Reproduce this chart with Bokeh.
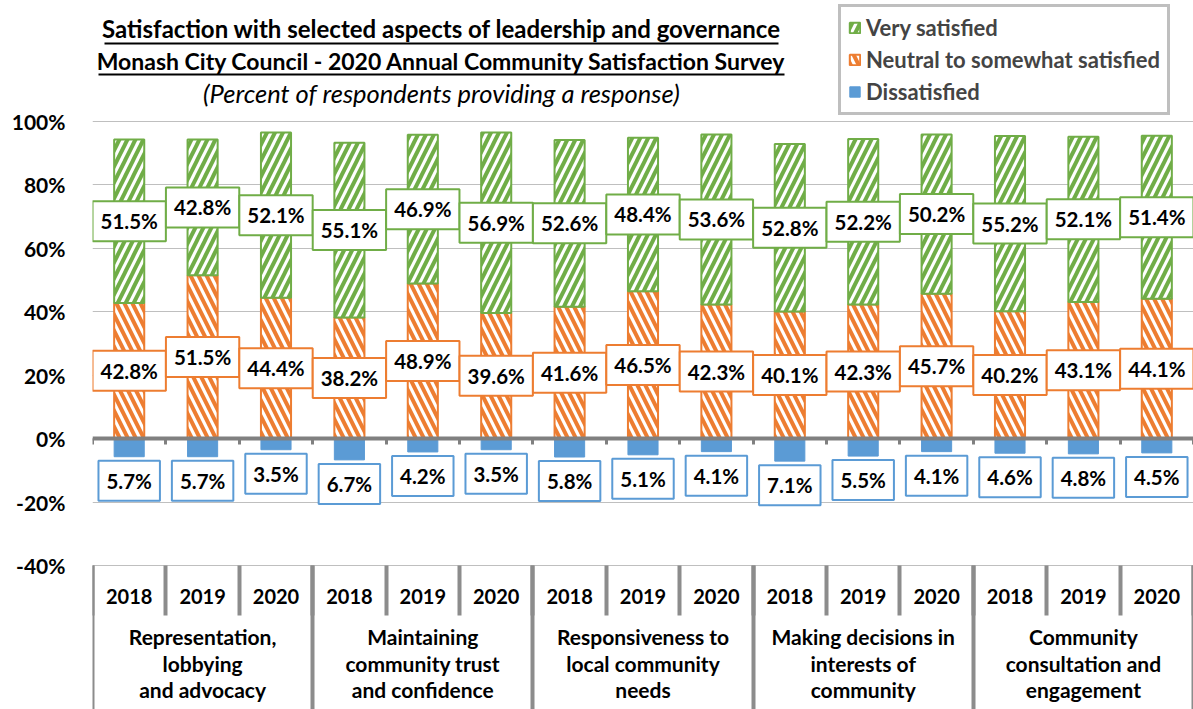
from bokeh.plotting import figure
from bokeh.models import (ColumnDataSource, Range1d, LinearAxis, FixedTicker,
                          PrintfTickFormatter, Legend, LegendItem, Label, BoxAnnotation,
                          CustomJSTickFormatter)
from bokeh.core.properties import value
from bokeh.embed import file_html
from bokeh.resources import INLINE

# ---------------- data ----------------
groups = [
    "Representation,\nlobbying\nand advocacy",
    "Maintaining\ncommunity trust\nand confidence",
    "Responsiveness to\nlocal community\nneeds",
    "Making decisions in\ninterests of\ncommunity",
    "Community\nconsultation and\nengagement",
]
years = ["2018", "2019", "2020"]
very_satisfied = [51.5, 42.8, 52.1, 55.1, 46.9, 56.9, 52.6, 48.4, 53.6, 52.8, 52.2, 50.2, 55.2, 52.1, 51.4]
neutral = [42.8, 51.5, 44.4, 38.2, 48.9, 39.6, 41.6, 46.5, 42.3, 40.1, 42.3, 45.7, 40.2, 43.1, 44.1]
dissatisfied = [5.7, 5.7, 3.5, 6.7, 4.2, 3.5, 5.8, 5.1, 4.1, 7.1, 5.5, 4.1, 4.6, 4.8, 4.5]
y_ticks = [-40, -20, 0, 20, 40, 60, 80, 100]
series_names = ["Very satisfied", "Neutral to somewhat satisfied", "Dissatisfied"]
title_lines = [
    "Satisfaction with selected aspects of leadership and governance",
    "Monash City Council - 2020 Annual Community Satisfaction Survey",
    "(Percent of respondents providing a response)",
]

# ---------------- style ----------------
GREEN = "#70ad47"
ORANGE = "#ed7d31"
BLUE = "#5b9bd5"
SEP = "#8c8c8c"
FONT = "Lato"

n_years = len(years)
slot_labels = [y for g in groups for y in years]
n_slots = len(slot_labels)
pos = [i + 0.5 for i in range(n_slots)]                      # slot centres
bounds = list(range(n_slots + 1))                           # slot boundaries
group_pos = [g * n_years + n_years / 2 for g in range(len(groups))]
group_bounds = list(range(0, n_slots + 1, n_years))
axis_floor = min(y_ticks)

src = ColumnDataSource(dict(
    x=pos,
    neutral=neutral,
    very=very_satisfied,
    dis_neg=[-d for d in dissatisfied],
    vs_mid=[n + v / 2 for n, v in zip(neutral, very_satisfied)],
    n_mid=[n / 2 for n in neutral],
    vs_lab=[f"{v:.1f}%" for v in very_satisfied],
    n_lab=[f"{v:.1f}%" for v in neutral],
    d_lab=[f"{v:.1f}%" for v in dissatisfied],
))

p = figure(width=1193, height=709, x_range=Range1d(0, n_slots), y_range=Range1d(-85.41, 138.15),
           output_backend="svg", toolbar_location=None, x_axis_location=None,
           min_border_left=92, min_border_right=0, min_border_top=0, min_border_bottom=0)
p.outline_line_color = None
p.background_fill_color = "white"
p.border_fill_color = "white"

# bars
rs = p.vbar_stack(["neutral", "very"], x="x", width=0.41, source=src,
                  fill_color="white", line_color=[ORANGE, GREEN], line_width=2,
                  hatch_pattern=["\\", "/"], hatch_color=[ORANGE, GREEN],
                  hatch_weight=4, hatch_scale=16)
rd = p.vbar(x="x", top=0, bottom="dis_neg", width=0.41, source=src,
            fill_color=BLUE, line_color=BLUE)

# grid / y axis
p.xgrid.visible = False
p.ygrid.ticker = FixedTicker(ticks=y_ticks)
p.ygrid.grid_line_color = "#bfbfbf"
p.ygrid.grid_line_width = 1
ya = p.yaxis[0]
ya.ticker = FixedTicker(ticks=y_ticks)
ya.formatter = PrintfTickFormatter(format="%d%%")
ya.axis_line_color = None
ya.major_tick_line_color = None
ya.minor_tick_line_color = None
ya.major_tick_out = 0
ya.major_label_standoff = 27
ya.major_label_text_font = FONT
ya.major_label_text_font_style = "bold"
ya.major_label_text_font_size = "21px"
ya.major_label_text_color = "black"

def label_axis(ticks, labels, standoff, size, line_height=1.2):
    ax = LinearAxis(fixed_location=axis_floor, ticker=FixedTicker(ticks=ticks),
                    major_label_overrides={x: s for x, s in zip(ticks, labels)},
                    major_label_standoff=standoff,
                    major_label_text_font=FONT, major_label_text_font_style="bold",
                    major_label_text_font_size=size, major_label_text_color="black",
                    major_label_text_line_height=line_height,
                    major_tick_line_color=None, minor_tick_line_color=None,
                    major_tick_out=0, major_tick_in=0, axis_line_color=None)
    p.add_layout(ax, "below")
    return ax

label_axis(pos, slot_labels, 24, "20px")                   # years
label_axis(group_pos, groups, 59, "21px", 1.05)           # groups

blank = CustomJSTickFormatter(code="return ''")

def sep_axis(loc, ticks, length, color, width, line_color=None, line_width=1):
    ax = LinearAxis(fixed_location=loc, ticker=FixedTicker(ticks=ticks), formatter=blank,
                    major_tick_in=0, major_tick_out=length,
                    major_tick_line_color=color, major_tick_line_width=width,
                    minor_tick_line_color=None,
                    axis_line_color=line_color, axis_line_width=line_width)
    p.add_layout(ax, "below")
    return ax

sep_axis(0, bounds, 6, "#808080", 3, line_color="#808080", line_width=4)   # zero line
sep_axis(axis_floor, bounds, 50, SEP, 4)                                   # year separators
sep_axis(axis_floor, group_bounds, 150, SEP, 4)                            # group separators

# data labels
common = dict(source=src, text_font=value(FONT), text_font_style="bold", text_font_size="20.5px",
              text_align="center", text_baseline="middle", text_color="black",
              background_fill_color="white", border_line_width=2, padding=8)
p.text(x="x", y="vs_mid", text="vs_lab", border_line_color=GREEN, **common)
p.text(x="x", y="n_mid", text="n_lab", border_line_color=ORANGE, **common)
p.text(x="x", y="dis_neg", text="d_lab", y_offset=24, border_line_color=BLUE, **common)

# legend
legend = Legend(items=[
    LegendItem(label=series_names[0], renderers=[rs[1]]),
    LegendItem(label=series_names[1], renderers=[rs[0]]),
    LegendItem(label=series_names[2], renderers=[rd]),
], location=(746, 594))
legend.label_text_font = FONT
legend.label_text_font_style = "bold"
legend.label_text_font_size = "22px"
legend.label_height = 20
legend.glyph_width = 13
legend.glyph_height = 13
legend.label_standoff = 5
legend.spacing = 5
legend.padding = 7
legend.border_line_color = "#808080"
legend.border_line_width = 3
legend.background_fill_color = "white"
legend.background_fill_alpha = 1
legend.margin = 0
p.add_layout(legend)

# titles (screen units, relative to the plot frame)
title_styles = [("bold", "24px", 681), ("bold", "23px", 649), ("italic", "25.5px", 617)]
for txt, (style, size, yy) in zip(title_lines, title_styles):
    p.add_layout(Label(x=349, y=yy, x_units="screen", y_units="screen", text=txt,
                       text_font=FONT, text_font_style=style,
                       text_font_size=size, text_align="center", text_baseline="middle",
                       text_color="black"))
for (l, r, t) in [(12, 686, 667), (6, 692, 636)]:
    p.add_layout(BoxAnnotation(left=l, right=r, top=t, bottom=t - 2,
                               left_units="screen", right_units="screen",
                               top_units="screen", bottom_units="screen",
                               fill_color="black", fill_alpha=1, line_color=None))

open("out.html", "w").write(file_html(p, INLINE))
